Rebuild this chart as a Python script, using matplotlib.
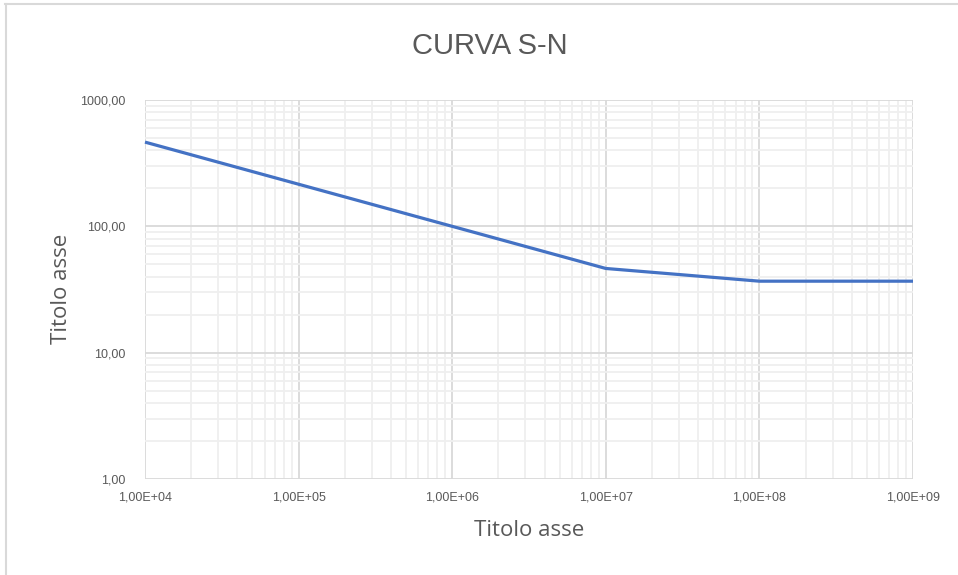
import math
import matplotlib
matplotlib.use("Agg")
import matplotlib.pyplot as plt
from matplotlib.lines import Line2D
from matplotlib.ticker import FixedLocator, LogLocator, FuncFormatter, NullFormatter
from matplotlib import font_manager

# S-N curve data (cycles, stress range)
cycles = [1e4, 1e5, 1e6, 1e7, 1e8, 1e9]
stress = [464.2, 215.4, 100.0, 46.4, 36.8, 36.8]

x_ticks = [1e4, 1e5, 1e6, 1e7, 1e8, 1e9]
y_ticks = [1, 10, 100, 1000]

title = "CURVA S-N"
x_title = "Titolo asse"
y_title = "Titolo asse"

available = {f.name for f in font_manager.fontManager.ttflist}
if "Liberation Sans Narrow" in available:
    narrow, title_size, tick_size = "Liberation Sans Narrow", 26, 10.5
else:
    narrow, title_size, tick_size = "Liberation Sans", 21, 9
label_font = "Open Sans" if "Open Sans" in available else "DejaVu Sans"

GRAY_TEXT = "#595959"
MAJOR_GRID = "#d9d9d9"
MINOR_GRID = "#efefef"
LINE_BLUE = "#4472C4"

W, H = 958, 575
fig = plt.figure(figsize=(W / 100, H / 100), dpi=100)
fig.patch.set_facecolor("white")

# chart frame (top and left edges)
fig.add_artist(Line2D([5 / W, 1.0], [1 - 3.5 / H, 1 - 3.5 / H], color="#d9d9d9", lw=1.5,
                      transform=fig.transFigure))
fig.add_artist(Line2D([5.5 / W, 5.5 / W], [0, 1 - 3.5 / H], color="#d9d9d9", lw=1.5,
                      transform=fig.transFigure))

ax = fig.add_axes([145 / W, 1 - 479 / H, (913 - 145) / W, (479 - 100) / H])
ax.set_xscale("log")
ax.set_yscale("log")
ax.set_xlim(x_ticks[0], x_ticks[-1])
ax.set_ylim(y_ticks[0], y_ticks[-1])

ax.xaxis.set_major_locator(FixedLocator(x_ticks))
ax.yaxis.set_major_locator(FixedLocator(y_ticks))
ax.xaxis.set_minor_locator(LogLocator(base=10, subs=range(2, 10), numticks=20))
ax.yaxis.set_minor_locator(LogLocator(base=10, subs=range(2, 10), numticks=20))
ax.xaxis.set_minor_formatter(NullFormatter())
ax.yaxis.set_minor_formatter(NullFormatter())


def sci_it(v, pos):
    exp = int(round(math.log10(v)))
    return f"1,00E+{exp:02d}"


def dec_it(v, pos):
    return f"{v:.2f}".replace(".", ",")


ax.xaxis.set_major_formatter(FuncFormatter(sci_it))
ax.yaxis.set_major_formatter(FuncFormatter(dec_it))

ax.grid(which="minor", color=MINOR_GRID, lw=1.3, zorder=0)
ax.grid(which="major", color=MAJOR_GRID, lw=1.3, zorder=1)
ax.set_axisbelow(True)
for s in ax.spines.values():
    s.set_visible(False)

ax.tick_params(which="both", length=0)
ax.tick_params(axis="x", pad=9, labelsize=tick_size, labelcolor=GRAY_TEXT)
ax.tick_params(axis="y", pad=14, labelsize=tick_size, labelcolor=GRAY_TEXT)
for lab in ax.get_xticklabels() + ax.get_yticklabels():
    lab.set_fontfamily(narrow)

ax.plot(cycles, stress, color=LINE_BLUE, lw=2.3, solid_capstyle="butt", zorder=3, clip_on=False)

fig.text(490 / W, 1 - 46 / H, title, ha="center", va="center", fontsize=title_size,
         color=GRAY_TEXT, family=narrow)
fig.text(529 / W, 1 - 531 / H, x_title, ha="center", va="center", fontsize=16,
         color=GRAY_TEXT, family=label_font)
fig.text(62 / W, 1 - 289 / H, y_title, ha="center", va="center", fontsize=16,
         color=GRAY_TEXT, family=label_font, rotation=90)

fig.savefig("out.png", dpi=100)
